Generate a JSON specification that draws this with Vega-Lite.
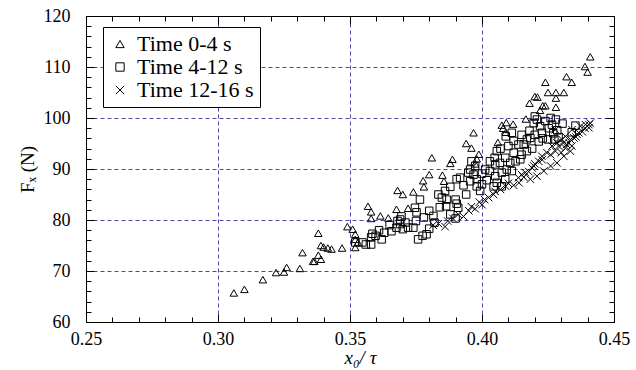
{
  "$schema": "https://vega.github.io/schema/vega-lite/v6.json",
  "width": 528,
  "height": 306,
  "autosize": {"type": "none"},
  "padding": {"left": 86, "top": 16, "right": 22, "bottom": 48},
  "background": "white",
  "config": {
    "font": "Liberation Serif",
    "view": {"stroke": "black", "strokeWidth": 1},
    "axis": {
      "labelFont": "Liberation Serif",
      "labelFontSize": 18,
      "labelColor": "black",
      "titleFont": "Liberation Serif",
      "titleColor": "black",
      "titleFontWeight": "normal",
      "domainColor": "black",
      "tickColor": "black",
      "tickWidth": 1,
      "gridColor": "#5b3fa8",
      "gridDash": [4, 3],
      "gridWidth": 1
    }
  },
  "data": {
    "values": [
      {"x":0.306,"y":65.7,"g":"Time 0-4 s"},{"x":0.310,"y":66.4,"g":"Time 0-4 s"},{"x":0.317,"y":68.3,"g":"Time 0-4 s"},{"x":0.322,"y":69.7,"g":"Time 0-4 s"},{"x":0.325,"y":69.8,"g":"Time 0-4 s"},{"x":0.326,"y":70.7,"g":"Time 0-4 s"},{"x":0.331,"y":70.5,"g":"Time 0-4 s"},{"x":0.332,"y":73.6,"g":"Time 0-4 s"},{"x":0.336,"y":71.9,"g":"Time 0-4 s"},{"x":0.3365,"y":71.9,"g":"Time 0-4 s"},{"x":0.338,"y":73.1,"g":"Time 0-4 s"},{"x":0.338,"y":77.4,"g":"Time 0-4 s"},{"x":0.339,"y":75.0,"g":"Time 0-4 s"},{"x":0.339,"y":72.3,"g":"Time 0-4 s"},{"x":0.340,"y":74.7,"g":"Time 0-4 s"},{"x":0.3416,"y":74.5,"g":"Time 0-4 s"},{"x":0.343,"y":74.3,"g":"Time 0-4 s"},{"x":0.347,"y":74.5,"g":"Time 0-4 s"},{"x":0.349,"y":78.7,"g":"Time 0-4 s"},{"x":0.351,"y":78.2,"g":"Time 0-4 s"},{"x":0.352,"y":77.2,"g":"Time 0-4 s"},{"x":0.352,"y":76.2,"g":"Time 0-4 s"},{"x":0.352,"y":74.6,"g":"Time 0-4 s"},{"x":0.353,"y":75.6,"g":"Time 0-4 s"},{"x":0.3568,"y":82.7,"g":"Time 0-4 s"},{"x":0.358,"y":81.6,"g":"Time 0-4 s"},{"x":0.358,"y":80.3,"g":"Time 0-4 s"},{"x":0.3615,"y":80.8,"g":"Time 0-4 s"},{"x":0.3645,"y":80.4,"g":"Time 0-4 s"},{"x":0.3676,"y":82.1,"g":"Time 0-4 s"},{"x":0.368,"y":85.8,"g":"Time 0-4 s"},{"x":0.370,"y":85.0,"g":"Time 0-4 s"},{"x":0.372,"y":82.3,"g":"Time 0-4 s"},{"x":0.374,"y":85.5,"g":"Time 0-4 s"},{"x":0.378,"y":86.5,"g":"Time 0-4 s"},{"x":0.3777,"y":87.7,"g":"Time 0-4 s"},{"x":0.380,"y":88.9,"g":"Time 0-4 s"},{"x":0.381,"y":92.2,"g":"Time 0-4 s"},{"x":0.385,"y":88.8,"g":"Time 0-4 s"},{"x":0.3856,"y":87.6,"g":"Time 0-4 s"},{"x":0.388,"y":91.1,"g":"Time 0-4 s"},{"x":0.3888,"y":91.9,"g":"Time 0-4 s"},{"x":0.394,"y":95.0,"g":"Time 0-4 s"},{"x":0.396,"y":94.1,"g":"Time 0-4 s"},{"x":0.3968,"y":97.1,"g":"Time 0-4 s"},{"x":0.3974,"y":91.0,"g":"Time 0-4 s"},{"x":0.398,"y":92.0,"g":"Time 0-4 s"},{"x":0.3988,"y":92.9,"g":"Time 0-4 s"},{"x":0.4060,"y":95.2,"g":"Time 0-4 s"},{"x":0.4075,"y":98.6,"g":"Time 0-4 s"},{"x":0.408,"y":98.0,"g":"Time 0-4 s"},{"x":0.409,"y":97.2,"g":"Time 0-4 s"},{"x":0.4092,"y":99.1,"g":"Time 0-4 s"},{"x":0.4118,"y":98.8,"g":"Time 0-4 s"},{"x":0.4166,"y":99.8,"g":"Time 0-4 s"},{"x":0.418,"y":102.9,"g":"Time 0-4 s"},{"x":0.420,"y":104.2,"g":"Time 0-4 s"},{"x":0.421,"y":104.1,"g":"Time 0-4 s"},{"x":0.422,"y":101.5,"g":"Time 0-4 s"},{"x":0.423,"y":102.4,"g":"Time 0-4 s"},{"x":0.424,"y":102.4,"g":"Time 0-4 s"},{"x":0.424,"y":107.0,"g":"Time 0-4 s"},{"x":0.425,"y":105.0,"g":"Time 0-4 s"},{"x":0.428,"y":105.0,"g":"Time 0-4 s"},{"x":0.428,"y":103.9,"g":"Time 0-4 s"},{"x":0.428,"y":102.1,"g":"Time 0-4 s"},{"x":0.431,"y":105.0,"g":"Time 0-4 s"},{"x":0.432,"y":108.1,"g":"Time 0-4 s"},{"x":0.434,"y":107.0,"g":"Time 0-4 s"},{"x":0.439,"y":110.1,"g":"Time 0-4 s"},{"x":0.440,"y":109.0,"g":"Time 0-4 s"},{"x":0.441,"y":112.0,"g":"Time 0-4 s"},

      {"x":0.352,"y":75.6,"g":"Time 4-12 s"},{"x":0.3547,"y":75.6,"g":"Time 4-12 s"},{"x":0.356,"y":75.2,"g":"Time 4-12 s"},{"x":0.358,"y":75.2,"g":"Time 4-12 s"},{"x":0.358,"y":76.6,"g":"Time 4-12 s"},{"x":0.3585,"y":77.3,"g":"Time 4-12 s"},{"x":0.3597,"y":76.9,"g":"Time 4-12 s"},{"x":0.361,"y":78.0,"g":"Time 4-12 s"},{"x":0.362,"y":76.2,"g":"Time 4-12 s"},{"x":0.363,"y":77.5,"g":"Time 4-12 s"},{"x":0.365,"y":79.0,"g":"Time 4-12 s"},{"x":0.3657,"y":77.8,"g":"Time 4-12 s"},{"x":0.3676,"y":78.5,"g":"Time 4-12 s"},{"x":0.368,"y":79.8,"g":"Time 4-12 s"},{"x":0.369,"y":79.2,"g":"Time 4-12 s"},{"x":0.369,"y":80.1,"g":"Time 4-12 s"},{"x":0.3695,"y":80.7,"g":"Time 4-12 s"},{"x":0.370,"y":78.2,"g":"Time 4-12 s"},{"x":0.371,"y":79.5,"g":"Time 4-12 s"},{"x":0.372,"y":78.5,"g":"Time 4-12 s"},{"x":0.374,"y":78.5,"g":"Time 4-12 s"},{"x":0.375,"y":79.8,"g":"Time 4-12 s"},{"x":0.3746,"y":82.4,"g":"Time 4-12 s"},{"x":0.3752,"y":81.5,"g":"Time 4-12 s"},{"x":0.3758,"y":76.2,"g":"Time 4-12 s"},{"x":0.3765,"y":84.0,"g":"Time 4-12 s"},{"x":0.3775,"y":76.9,"g":"Time 4-12 s"},{"x":0.378,"y":80.5,"g":"Time 4-12 s"},{"x":0.379,"y":77.2,"g":"Time 4-12 s"},{"x":0.380,"y":78.3,"g":"Time 4-12 s"},{"x":0.380,"y":81.8,"g":"Time 4-12 s"},{"x":0.3816,"y":80.8,"g":"Time 4-12 s"},{"x":0.382,"y":79.5,"g":"Time 4-12 s"},{"x":0.3835,"y":85.0,"g":"Time 4-12 s"},{"x":0.384,"y":82.5,"g":"Time 4-12 s"},{"x":0.3848,"y":84.4,"g":"Time 4-12 s"},{"x":0.386,"y":85.7,"g":"Time 4-12 s"},{"x":0.3866,"y":84.0,"g":"Time 4-12 s"},{"x":0.3864,"y":82.7,"g":"Time 4-12 s"},{"x":0.388,"y":81.1,"g":"Time 4-12 s"},{"x":0.388,"y":86.5,"g":"Time 4-12 s"},{"x":0.390,"y":84.0,"g":"Time 4-12 s"},{"x":0.3904,"y":83.2,"g":"Time 4-12 s"},{"x":0.391,"y":82.4,"g":"Time 4-12 s"},{"x":0.390,"y":80.3,"g":"Time 4-12 s"},{"x":0.3904,"y":88.0,"g":"Time 4-12 s"},{"x":0.3917,"y":88.3,"g":"Time 4-12 s"},{"x":0.393,"y":86.8,"g":"Time 4-12 s"},{"x":0.394,"y":85.0,"g":"Time 4-12 s"},{"x":0.3948,"y":89.3,"g":"Time 4-12 s"},{"x":0.3955,"y":87.6,"g":"Time 4-12 s"},{"x":0.3955,"y":89.9,"g":"Time 4-12 s"},{"x":0.396,"y":91.5,"g":"Time 4-12 s"},{"x":0.3968,"y":88.9,"g":"Time 4-12 s"},{"x":0.3974,"y":90.6,"g":"Time 4-12 s"},{"x":0.398,"y":88.0,"g":"Time 4-12 s"},{"x":0.398,"y":86.6,"g":"Time 4-12 s"},{"x":0.3993,"y":85.7,"g":"Time 4-12 s"},{"x":0.400,"y":87.0,"g":"Time 4-12 s"},{"x":0.400,"y":89.1,"g":"Time 4-12 s"},{"x":0.4012,"y":89.9,"g":"Time 4-12 s"},{"x":0.4018,"y":87.8,"g":"Time 4-12 s"},{"x":0.403,"y":89.6,"g":"Time 4-12 s"},{"x":0.403,"y":91.5,"g":"Time 4-12 s"},{"x":0.4044,"y":86.6,"g":"Time 4-12 s"},{"x":0.4056,"y":87.3,"g":"Time 4-12 s"},{"x":0.405,"y":90.9,"g":"Time 4-12 s"},{"x":0.405,"y":88.6,"g":"Time 4-12 s"},{"x":0.4048,"y":92.2,"g":"Time 4-12 s"},{"x":0.4056,"y":93.5,"g":"Time 4-12 s"},{"x":0.4068,"y":91.2,"g":"Time 4-12 s"},{"x":0.407,"y":94.0,"g":"Time 4-12 s"},{"x":0.4075,"y":89.3,"g":"Time 4-12 s"},{"x":0.4075,"y":86.6,"g":"Time 4-12 s"},{"x":0.4088,"y":92.2,"g":"Time 4-12 s"},{"x":0.4088,"y":88.0,"g":"Time 4-12 s"},{"x":0.4094,"y":89.9,"g":"Time 4-12 s"},{"x":0.409,"y":96.4,"g":"Time 4-12 s"},{"x":0.410,"y":94.5,"g":"Time 4-12 s"},{"x":0.4107,"y":91.2,"g":"Time 4-12 s"},{"x":0.4113,"y":89.6,"g":"Time 4-12 s"},{"x":0.4113,"y":97.1,"g":"Time 4-12 s"},{"x":0.412,"y":93.2,"g":"Time 4-12 s"},{"x":0.412,"y":95.5,"g":"Time 4-12 s"},{"x":0.4127,"y":91.5,"g":"Time 4-12 s"},{"x":0.4138,"y":94.8,"g":"Time 4-12 s"},{"x":0.4145,"y":91.9,"g":"Time 4-12 s"},{"x":0.415,"y":92.8,"g":"Time 4-12 s"},{"x":0.415,"y":96.7,"g":"Time 4-12 s"},{"x":0.4158,"y":94.8,"g":"Time 4-12 s"},{"x":0.417,"y":95.8,"g":"Time 4-12 s"},{"x":0.417,"y":93.5,"g":"Time 4-12 s"},{"x":0.418,"y":97.5,"g":"Time 4-12 s"},{"x":0.4183,"y":96.1,"g":"Time 4-12 s"},{"x":0.419,"y":94.0,"g":"Time 4-12 s"},{"x":0.4196,"y":99.0,"g":"Time 4-12 s"},{"x":0.420,"y":96.7,"g":"Time 4-12 s"},{"x":0.420,"y":100.3,"g":"Time 4-12 s"},{"x":0.4208,"y":99.7,"g":"Time 4-12 s"},{"x":0.4215,"y":95.4,"g":"Time 4-12 s"},{"x":0.422,"y":98.4,"g":"Time 4-12 s"},{"x":0.4227,"y":97.1,"g":"Time 4-12 s"},{"x":0.423,"y":96.0,"g":"Time 4-12 s"},{"x":0.424,"y":99.4,"g":"Time 4-12 s"},{"x":0.425,"y":95.8,"g":"Time 4-12 s"},{"x":0.4253,"y":98.0,"g":"Time 4-12 s"},{"x":0.426,"y":100.0,"g":"Time 4-12 s"},{"x":0.4265,"y":98.7,"g":"Time 4-12 s"},{"x":0.427,"y":97.0,"g":"Time 4-12 s"},{"x":0.4274,"y":95.8,"g":"Time 4-12 s"},{"x":0.428,"y":99.7,"g":"Time 4-12 s"},{"x":0.4285,"y":97.6,"g":"Time 4-12 s"},{"x":0.429,"y":96.2,"g":"Time 4-12 s"},{"x":0.4305,"y":98.9,"g":"Time 4-12 s"},{"x":0.434,"y":97.2,"g":"Time 4-12 s"},{"x":0.4354,"y":98.5,"g":"Time 4-12 s"},

      {"x":0.3815,"y":79.0,"g":"Time 12-16 s"},{"x":0.3835,"y":79.3,"g":"Time 12-16 s"},{"x":0.386,"y":78.7,"g":"Time 12-16 s"},{"x":0.387,"y":79.8,"g":"Time 12-16 s"},{"x":0.389,"y":80.3,"g":"Time 12-16 s"},{"x":0.391,"y":81.1,"g":"Time 12-16 s"},{"x":0.393,"y":80.7,"g":"Time 12-16 s"},{"x":0.395,"y":81.8,"g":"Time 12-16 s"},{"x":0.396,"y":82.6,"g":"Time 12-16 s"},{"x":0.3974,"y":82.2,"g":"Time 12-16 s"},{"x":0.399,"y":83.5,"g":"Time 12-16 s"},{"x":0.400,"y":83.0,"g":"Time 12-16 s"},{"x":0.401,"y":84.0,"g":"Time 12-16 s"},{"x":0.4025,"y":84.4,"g":"Time 12-16 s"},{"x":0.4044,"y":85.0,"g":"Time 12-16 s"},{"x":0.405,"y":85.6,"g":"Time 12-16 s"},{"x":0.407,"y":86.0,"g":"Time 12-16 s"},{"x":0.409,"y":86.6,"g":"Time 12-16 s"},{"x":0.410,"y":87.2,"g":"Time 12-16 s"},{"x":0.412,"y":86.8,"g":"Time 12-16 s"},{"x":0.414,"y":87.3,"g":"Time 12-16 s"},{"x":0.4138,"y":88.3,"g":"Time 12-16 s"},{"x":0.415,"y":88.9,"g":"Time 12-16 s"},{"x":0.4158,"y":88.4,"g":"Time 12-16 s"},{"x":0.4164,"y":89.3,"g":"Time 12-16 s"},{"x":0.4177,"y":89.5,"g":"Time 12-16 s"},{"x":0.4183,"y":88.0,"g":"Time 12-16 s"},{"x":0.419,"y":90.2,"g":"Time 12-16 s"},{"x":0.4196,"y":90.6,"g":"Time 12-16 s"},{"x":0.420,"y":91.0,"g":"Time 12-16 s"},{"x":0.4208,"y":88.6,"g":"Time 12-16 s"},{"x":0.4215,"y":91.5,"g":"Time 12-16 s"},{"x":0.4228,"y":91.8,"g":"Time 12-16 s"},{"x":0.4227,"y":92.5,"g":"Time 12-16 s"},{"x":0.4234,"y":89.6,"g":"Time 12-16 s"},{"x":0.4246,"y":93.2,"g":"Time 12-16 s"},{"x":0.426,"y":90.6,"g":"Time 12-16 s"},{"x":0.426,"y":92.8,"g":"Time 12-16 s"},{"x":0.4265,"y":94.5,"g":"Time 12-16 s"},{"x":0.4278,"y":93.5,"g":"Time 12-16 s"},{"x":0.4284,"y":95.1,"g":"Time 12-16 s"},{"x":0.4284,"y":91.2,"g":"Time 12-16 s"},{"x":0.429,"y":94.5,"g":"Time 12-16 s"},{"x":0.430,"y":93.2,"g":"Time 12-16 s"},{"x":0.4303,"y":95.8,"g":"Time 12-16 s"},{"x":0.4308,"y":95.1,"g":"Time 12-16 s"},{"x":0.431,"y":92.5,"g":"Time 12-16 s"},{"x":0.4316,"y":94.1,"g":"Time 12-16 s"},{"x":0.4316,"y":96.4,"g":"Time 12-16 s"},{"x":0.432,"y":94.8,"g":"Time 12-16 s"},{"x":0.433,"y":95.1,"g":"Time 12-16 s"},{"x":0.4335,"y":93.5,"g":"Time 12-16 s"},{"x":0.4335,"y":95.8,"g":"Time 12-16 s"},{"x":0.434,"y":94.5,"g":"Time 12-16 s"},{"x":0.4341,"y":97.7,"g":"Time 12-16 s"},{"x":0.4348,"y":96.1,"g":"Time 12-16 s"},{"x":0.4356,"y":96.3,"g":"Time 12-16 s"},{"x":0.436,"y":96.8,"g":"Time 12-16 s"},{"x":0.4367,"y":97.1,"g":"Time 12-16 s"},{"x":0.4373,"y":98.4,"g":"Time 12-16 s"},{"x":0.438,"y":97.3,"g":"Time 12-16 s"},{"x":0.439,"y":98.0,"g":"Time 12-16 s"},{"x":0.4392,"y":98.7,"g":"Time 12-16 s"},{"x":0.4405,"y":98.1,"g":"Time 12-16 s"},{"x":0.4405,"y":98.7,"g":"Time 12-16 s"},{"x":0.441,"y":99.0,"g":"Time 12-16 s"},{"x":0.4278,"y":97.7,"g":"Time 12-16 s"}
    ]
  },
  "resolve": {"axis": {"x": "independent", "y": "independent"}},
  "layer": [
    {
      "mark": {"type": "point", "filled": false, "color": "black", "strokeWidth": 1, "size": 56, "opacity": 1},
      "encoding": {
        "x": {
          "field": "x", "type": "quantitative",
          "scale": {"domain": [0.25, 0.45], "nice": false, "zero": false},
          "axis": {
            "orient": "bottom",
            "values": [0.25,0.26,0.27,0.28,0.29,0.30,0.31,0.32,0.33,0.34,0.35,0.36,0.37,0.38,0.39,0.40,0.41,0.42,0.43,0.44,0.45],
            "labelExpr": "round(datum.value*100)%5==0 ? format(datum.value, '.2f') : ''",
            "tickSize": {"condition": {"test": "round(datum.value*100)%5==0", "value": -8}, "value": -5},
            "gridOpacity": {"condition": {"test": "round(datum.value*100)%5==0", "value": 1}, "value": 0},
            "gridColor": "#5b3fa8",
            "grid": true,
            "labelPadding": 16,
            "labelFlush": false,
            "title": "x₀/ τ",
            "titleFontSize": 19,
            "titleFontStyle": "italic",
            "titlePadding": 0,
            "titleX": 274
          }
        },
        "y": {
          "field": "y", "type": "quantitative",
          "scale": {"domain": [60, 120], "nice": false, "zero": false},
          "axis": {
            "orient": "left",
            "values": [60,62,64,66,68,70,72,74,76,78,80,82,84,86,88,90,92,94,96,98,100,102,104,106,108,110,112,114,116,118,120],
            "labelExpr": "datum.value%10==0 ? datum.label : ''",
            "tickSize": {"condition": {"test": "datum.value%10==0", "value": -8}, "value": -5},
            "gridOpacity": {"condition": {"test": "datum.value%10==0", "value": 1}, "value": 0},
            "gridColor": "#5b3fa8",
            "grid": true,
            "labelPadding": 24,
            "labelFlush": false,
            "title": "Fₓ  (N)",
            "titleFontSize": 19,
            "titlePadding": 6
          }
        },
        "shape": {
          "field": "g", "type": "nominal",
          "scale": {
            "domain": ["Time 0-4 s", "Time 4-12 s", "Time 12-16 s"],
            "range": ["triangle-up", "square", "M-1,-1L1,1M-1,1L1,-1"]
          },
          "legend": {
            "title": null,
            "orient": "none",
            "legendX": 17,
            "legendY": 11,
            "strokeColor": "black",
            "fillColor": "white",
            "padding": 6,
            "labelFont": "Liberation Serif",
            "labelFontSize": 22,
            "labelColor": "black",
            "symbolStrokeColor": "black",
            "symbolFillColor": "transparent",
            "symbolStrokeWidth": 1,
            "symbolSize": 70,
            "rowPadding": 1,
            "labelOffset": 6
          }
        }
      }
    },
    {
      "mark": {"type": "point", "opacity": 0},
      "encoding": {
        "x": {
          "field": "x", "type": "quantitative",
          "axis": {
            "orient": "top",
            "values": [0.25,0.26,0.27,0.28,0.29,0.30,0.31,0.32,0.33,0.34,0.35,0.36,0.37,0.38,0.39,0.40,0.41,0.42,0.43,0.44,0.45],
            "labels": false,
            "grid": false,
            "title": null,
            "tickSize": {"condition": {"test": "round(datum.value*100)%5==0", "value": -8}, "value": -5}
          }
        },
        "y": {
          "field": "y", "type": "quantitative",
          "axis": {
            "orient": "right",
            "values": [60,62,64,66,68,70,72,74,76,78,80,82,84,86,88,90,92,94,96,98,100,102,104,106,108,110,112,114,116,118,120],
            "labels": false,
            "grid": false,
            "title": null,
            "tickSize": {"condition": {"test": "datum.value%10==0", "value": -8}, "value": -5}
          }
        }
      }
    }
  ]
}
